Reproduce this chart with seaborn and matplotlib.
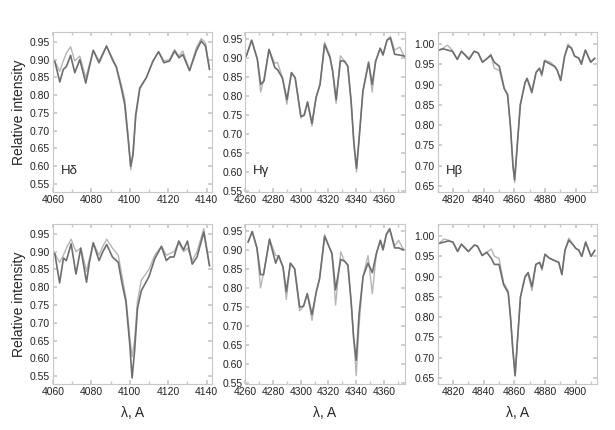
import pandas as pd
import numpy as np
import seaborn as sns
import matplotlib
matplotlib.use("Agg")
import matplotlib.pyplot as plt
from matplotlib.ticker import MultipleLocator, FormatStrFormatter

# ---- data ----
# H-delta, upper row
hd_x_top = [4061, 4063.6, 4065.4, 4067.1, 4069.2, 4071.4, 4074, 4077.1, 4079, 4081, 4084, 4086,
            4087.9, 4091.3, 4093, 4095.6, 4097.4, 4099.1, 4100.5, 4101.7, 4103.1, 4105.2, 4108.6,
            4112.1, 4115, 4117.8, 4120.7, 4123.3, 4125.6, 4127.6, 4131.1, 4134.6, 4137.2, 4139.4, 4141.5]
hd_top_dark = [0.895, 0.837, 0.872, 0.881, 0.912, 0.863, 0.900, 0.834, 0.880, 0.926, 0.891, 0.915,
               0.938, 0.896, 0.879, 0.820, 0.773, 0.680, 0.600, 0.633, 0.745, 0.820, 0.849,
               0.896, 0.922, 0.891, 0.896, 0.924, 0.905, 0.914, 0.869, 0.924, 0.952, 0.938, 0.872]
hd_top_light = [0.895, 0.867, 0.896, 0.919, 0.936, 0.896, 0.910, 0.849, 0.885, 0.926, 0.896, 0.918,
                0.938, 0.900, 0.881, 0.830, 0.788, 0.689, 0.590, 0.642, 0.736, 0.816, 0.850,
                0.896, 0.922, 0.896, 0.900, 0.928, 0.910, 0.924, 0.869, 0.933, 0.959, 0.947, 0.872]
# H-delta, lower row
hd_x_bot = [4061, 4063.5, 4065.5, 4067, 4069.5, 4072, 4074.5, 4077.5, 4079, 4081, 4084, 4086, 4088,
            4091, 4094, 4096, 4098, 4100, 4101.2, 4102.5, 4104, 4106, 4110, 4113, 4116.5, 4119, 4121,
            4123, 4125.5, 4128, 4130, 4132.5, 4135, 4138.5, 4141.5]
hd_bot_dark = [0.895, 0.812, 0.882, 0.875, 0.922, 0.837, 0.910, 0.814, 0.870, 0.925, 0.875, 0.900, 0.920,
               0.885, 0.870, 0.810, 0.760, 0.640, 0.545, 0.620, 0.740, 0.790, 0.830, 0.880, 0.915, 0.875, 0.885,
               0.885, 0.930, 0.905, 0.930, 0.865, 0.885, 0.955, 0.860]
hd_bot_light = [0.895, 0.870, 0.890, 0.910, 0.935, 0.900, 0.910, 0.845, 0.880, 0.925, 0.890, 0.915, 0.935,
                0.910, 0.890, 0.830, 0.770, 0.660, 0.605, 0.650, 0.760, 0.820, 0.850, 0.890, 0.915, 0.890, 0.895,
                0.900, 0.925, 0.900, 0.910, 0.875, 0.900, 0.965, 0.860]

# H-gamma, upper row
hg_x_top = [4260.7, 4264.6, 4268.7, 4271.1, 4273.5, 4277.1, 4281.3, 4283.2, 4286.8, 4290, 4293.3, 4296,
            4300.1, 4302.5, 4304.9, 4308.1, 4311, 4313.9, 4317.2, 4321.1, 4323, 4325.5, 4328.6, 4331.5,
            4333.9, 4336.3, 4338.3, 4340.2, 4342.1, 4344.8, 4348.9, 4351.5, 4354, 4357.3, 4359.3, 4362.2,
            4364.6, 4367.7, 4371.4, 4375]
hg_top_dark = [0.904, 0.946, 0.896, 0.830, 0.839, 0.922, 0.874, 0.869, 0.847, 0.790, 0.861, 0.847,
               0.746, 0.749, 0.784, 0.728, 0.795, 0.830, 0.935, 0.900, 0.865, 0.790, 0.892, 0.891,
               0.878, 0.786, 0.676, 0.610, 0.689, 0.812, 0.887, 0.830, 0.891, 0.925, 0.907, 0.946,
               0.952, 0.909, 0.907, 0.904]
hg_top_light = [0.904, 0.946, 0.896, 0.810, 0.845, 0.922, 0.885, 0.888, 0.847, 0.778, 0.861, 0.847,
                0.742, 0.752, 0.784, 0.720, 0.795, 0.830, 0.940, 0.905, 0.865, 0.780, 0.905, 0.891,
                0.878, 0.786, 0.676, 0.600, 0.689, 0.812, 0.890, 0.810, 0.891, 0.925, 0.910, 0.946,
                0.956, 0.920, 0.928, 0.900]
# H-gamma, lower row
hg_x_bot = [4262, 4265, 4268.4, 4271, 4273.2, 4277.5, 4281.9, 4284, 4287.2, 4289.6, 4292.5, 4295.6,
            4299.2, 4302, 4304.7, 4308.1, 4311.2, 4313.6, 4317.2, 4320.8, 4322.5, 4325.1, 4328.8, 4331.6,
            4334, 4336.4, 4338.1, 4340, 4342, 4344.9, 4348.5, 4351.6, 4354.5, 4357.4, 4359.3, 4361.7,
            4364.1, 4367.7, 4370.5, 4374.2]
hg_bot_dark = [0.920, 0.948, 0.905, 0.835, 0.835, 0.928, 0.865, 0.885, 0.855, 0.790, 0.865, 0.850,
               0.750, 0.752, 0.785, 0.730, 0.790, 0.825, 0.935, 0.905, 0.890, 0.795, 0.875, 0.870,
               0.860, 0.760, 0.670, 0.610, 0.730, 0.830, 0.865, 0.840, 0.890, 0.925, 0.900, 0.940,
               0.955, 0.905, 0.905, 0.900]
hg_bot_light = [0.920, 0.948, 0.905, 0.800, 0.840, 0.928, 0.885, 0.885, 0.855, 0.770, 0.865, 0.850,
                0.740, 0.752, 0.785, 0.715, 0.790, 0.825, 0.940, 0.905, 0.890, 0.755, 0.895, 0.870,
                0.860, 0.760, 0.670, 0.570, 0.700, 0.830, 0.885, 0.785, 0.890, 0.925, 0.900, 0.940,
                0.955, 0.910, 0.925, 0.900]

# H-beta, upper row
hb_x_top = [4810.8, 4813.7, 4816.3, 4819.6, 4822.8, 4825.5, 4830.5, 4833.8, 4836.4, 4839.2, 4842.5,
            4844.7, 4846.9, 4850.2, 4853.4, 4855.6, 4857.4, 4859.1, 4860.2, 4861.7, 4863.9, 4867,
            4868.3, 4871.4, 4874.2, 4876.4, 4877.9, 4879.7, 4883.6, 4886.2, 4888, 4890.2, 4892.8,
            4895, 4897.2, 4899.3, 4902, 4903.7, 4906.3, 4909.8, 4912.5]
hb_top_dark = [0.985, 0.988, 0.985, 0.982, 0.962, 0.982, 0.962, 0.982, 0.978, 0.955, 0.965,
               0.972, 0.955, 0.945, 0.890, 0.875, 0.800, 0.700, 0.665, 0.740, 0.850, 0.905,
               0.915, 0.880, 0.930, 0.940, 0.925, 0.958, 0.950, 0.945, 0.935, 0.910, 0.970,
               0.995, 0.990, 0.970, 0.965, 0.950, 0.985, 0.955, 0.965]
hb_top_light = [0.985, 0.990, 0.997, 0.985, 0.962, 0.982, 0.965, 0.982, 0.978, 0.955, 0.965,
                0.975, 0.940, 0.935, 0.890, 0.875, 0.800, 0.700, 0.658, 0.740, 0.850, 0.905,
                0.915, 0.885, 0.930, 0.940, 0.920, 0.960, 0.955, 0.945, 0.935, 0.910, 0.970,
                1.000, 0.990, 0.970, 0.965, 0.955, 0.985, 0.955, 0.965]
# H-beta, lower row
hb_x_bot = [4811, 4814, 4817, 4820, 4823, 4825.5, 4830, 4834, 4836, 4839, 4842, 4845, 4847, 4850,
            4853, 4856, 4857.5, 4859, 4860.5, 4862, 4864, 4867, 4869, 4871.5, 4874, 4876.5, 4878,
            4880, 4883, 4886, 4889, 4891, 4893, 4895.5, 4898, 4900, 4902, 4904, 4906.5, 4910, 4912.5]
hb_bot_dark = [0.982, 0.985, 0.988, 0.985, 0.962, 0.980, 0.962, 0.978, 0.975, 0.952, 0.960, 0.945,
               0.930, 0.930, 0.880, 0.860, 0.800, 0.720, 0.655, 0.740, 0.850, 0.900, 0.910, 0.875,
               0.930, 0.935, 0.920, 0.955, 0.945, 0.940, 0.935, 0.905, 0.965, 0.990, 0.980, 0.970,
               0.965, 0.950, 0.985, 0.950, 0.965]
hb_bot_light = [0.982, 0.993, 0.990, 0.985, 0.962, 0.980, 0.962, 0.978, 0.975, 0.952, 0.960, 0.968,
                0.950, 0.945, 0.885, 0.865, 0.800, 0.720, 0.660, 0.740, 0.850, 0.900, 0.905, 0.865,
                0.930, 0.935, 0.915, 0.955, 0.945, 0.940, 0.935, 0.905, 0.965, 0.995, 0.980, 0.970,
                0.965, 0.950, 0.985, 0.950, 0.965]

line_names = ["H\u03b4", "H\u03b3", "H\u03b2"]

# set theme, then fonts
sns.set_theme(style="ticks")
plt.rcParams["font.family"] = ["Liberation Sans", "DejaVu Sans"]

fig, axes = plt.subplots(2, 3, figsize=(6.15, 4.30), dpi=100)
fig.subplots_adjust(left=0.086, right=0.971, bottom=0.107, top=0.926, wspace=0.206, hspace=0.2)

panels = [
    (hd_x_top, hd_top_dark, hd_top_light, hd_x_bot, hd_bot_dark, hd_bot_light, (4060, 4143), (0.528, 0.978), 4060),
    (hg_x_top, hg_top_dark, hg_top_light, hg_x_bot, hg_bot_dark, hg_bot_light, (4260, 4375), (0.548, 0.968), 4260),
    (hb_x_top, hb_top_dark, hb_top_light, hb_x_bot, hb_bot_dark, hb_bot_light, (4810, 4914), (0.635, 1.030), 4820),
]

dark_col = "#6e6e6e"
light_col = "#b5b5b5"
frame_col = "#c8c8c8"

for col, (xt, dt, lt, xb, db, lb, xlim, ylim, xstart) in enumerate(panels):
    for row, (xs, dk, lg) in enumerate([(xt, dt, lt), (xb, db, lb)]):
        ax = axes[row, col]
        df = pd.DataFrame({"wl": xs, "dark": dk, "light": lg})
        sns.lineplot(data=df, x="wl", y="light", ax=ax, color=light_col, lw=1.0)
        sns.lineplot(data=df, x="wl", y="dark", ax=ax, color=dark_col, lw=1.2)
        ax.set_xlim(*xlim)
        ax.set_ylim(*ylim)
        ax.xaxis.set_major_locator(MultipleLocator(20))
        ax.xaxis.set_minor_locator(MultipleLocator(10))
        ax.yaxis.set_major_locator(MultipleLocator(0.05))
        ax.yaxis.set_major_formatter(FormatStrFormatter("%.2f"))
        ax.tick_params(which="both", direction="in", top=True, right=True,
                       color=frame_col, labelsize=7.5, labelcolor="#222222", pad=2)
        ax.tick_params(which="major", length=3)
        ax.tick_params(which="minor", length=2)
        for sp in ax.spines.values():
            sp.set_color(frame_col)
            sp.set_linewidth(0.8)
        ax.set_xlabel("")
        ax.set_ylabel("")
        if col == 0:
            ax.set_ylabel("Relative intensity", fontsize=10, labelpad=3)
        if row == 1:
            ax.set_xlabel("\u03bb, A", fontsize=10, labelpad=7)
        if row == 0:
            ax.text(0.05, 0.13, line_names[col], transform=ax.transAxes,
                    fontsize=9.5, ha="left", va="center")

fig.savefig("out.png", dpi=100)
